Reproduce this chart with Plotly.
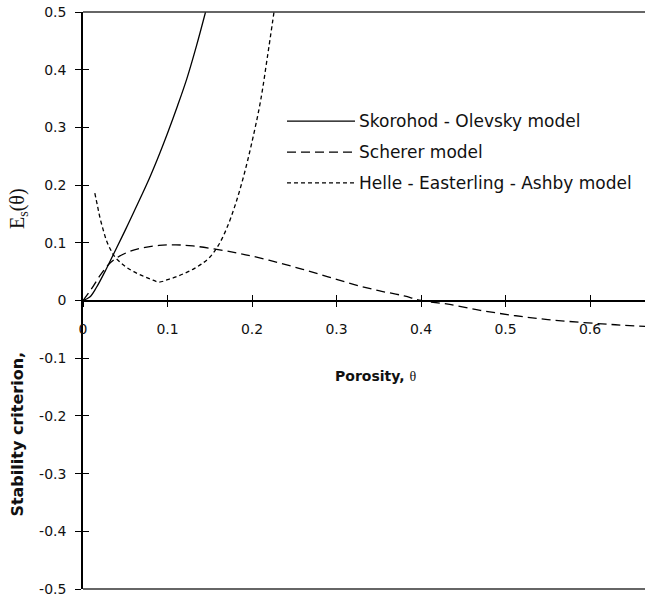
import plotly.graph_objects as go

# Porosity values and stability criterion E_s(theta) for the three models
skorohod_x = [0, 0.008, 0.016, 0.028, 0.04, 0.05, 0.06, 0.075, 0.088, 0.1, 0.112, 0.123, 0.134, 0.145]
skorohod_y = [0, 0.006, 0.023, 0.056, 0.092, 0.122, 0.153, 0.2, 0.245, 0.29, 0.338, 0.385, 0.44, 0.5]

scherer_x = [0, 0.01, 0.02, 0.03, 0.04, 0.055, 0.07, 0.09, 0.11, 0.13, 0.155, 0.18, 0.2, 0.23,
             0.26, 0.29, 0.32, 0.35, 0.38, 0.4, 0.43, 0.47, 0.51, 0.55, 0.59, 0.63, 0.665]
scherer_y = [0, 0.02, 0.043, 0.062, 0.074, 0.085, 0.091, 0.0955, 0.0965, 0.0945, 0.0895, 0.083,
             0.077, 0.066, 0.054, 0.041, 0.028, 0.017, 0.008, 0.0, -0.006, -0.017, -0.026,
             -0.033, -0.038, -0.042, -0.045]

helle_x = [0.014, 0.017, 0.02, 0.024, 0.028, 0.033, 0.038, 0.045, 0.052, 0.06, 0.07, 0.08, 0.09,
           0.1, 0.11, 0.12, 0.13, 0.14, 0.15, 0.16, 0.17, 0.18, 0.19, 0.2, 0.21, 0.218, 0.226]
helle_y = [0.186, 0.165, 0.144, 0.122, 0.103, 0.087, 0.075, 0.065, 0.057, 0.05, 0.043, 0.037,
           0.032, 0.036, 0.041, 0.047, 0.054, 0.063, 0.075, 0.095, 0.125, 0.165, 0.215, 0.275,
           0.345, 0.42, 0.5]

series_names = ["Skorohod - Olevsky model", "Scherer model", "Helle - Easterling - Ashby model"]
series_dash = ["solid", "9px,5px", "4px,3px"]

x_tick_vals = [0, 0.1, 0.2, 0.3, 0.4, 0.5, 0.6]
x_tick_text = ["0", "0.1", "0.2", "0.3", "0.4", "0.5", "0.6"]
y_tick_vals = [0.5, 0.4, 0.3, 0.2, 0.1, 0, -0.1, -0.2, -0.3, -0.4, -0.5]
y_tick_text = ["0.5", "0.4", "0.3", "0.2", "0.1", "0", "-0.1", "-0.2", "-0.3", "-0.4", "-0.5"]

X_RANGE = [0, 0.665]
Y_RANGE = [-0.5, 0.5]
TICK_FONT = dict(family="DejaVu Sans", size=14, color="#111")

fig = go.Figure()
for xs, ys, name, dash in zip([skorohod_x, scherer_x, helle_x],
                              [skorohod_y, scherer_y, helle_y],
                              series_names, series_dash):
    fig.add_trace(go.Scatter(x=xs, y=ys, name=name, mode="lines", line_shape="spline",
                             line=dict(color="black", width=1.3, dash=dash, smoothing=1.0),
                             showlegend=False, cliponaxis=True))

# empty trace so the overlay axes (inner half of the cross ticks) get drawn
fig.add_trace(go.Scatter(x=[], y=[], xaxis="x2", yaxis="y2", showlegend=False))

axis_common = dict(showgrid=False, zeroline=False, ticklen=6, tickwidth=1.3, tickcolor="black")

fig.update_layout(
    width=645, height=600,
    margin=dict(l=83, r=0, t=12, b=11),
    plot_bgcolor="white", paper_bgcolor="white",
    xaxis=dict(range=X_RANGE, tickvals=x_tick_vals, ticktext=x_tick_text,
               anchor="free", position=0.5, ticks="outside", showline=True,
               linecolor="black", linewidth=1.5, tickfont=TICK_FONT,
               ticklabelstandoff=10, **axis_common),
    xaxis2=dict(range=X_RANGE, tickvals=x_tick_vals, showticklabels=False, overlaying="x",
                anchor="free", position=0.5, ticks="inside", showline=False, **axis_common),
    yaxis=dict(range=Y_RANGE, tickvals=y_tick_vals, ticktext=y_tick_text,
               anchor="x", ticks="outside", showline=True, linecolor="black", linewidth=1.5,
               tickfont=TICK_FONT, ticklabelstandoff=6, **axis_common),
    yaxis2=dict(range=Y_RANGE, tickvals=y_tick_vals, showticklabels=False, overlaying="y",
                anchor="x", side="left", ticks="inside", showline=False, **axis_common),
)

# frame lines along top and bottom of the plotting area
for yy in (0, 1):
    fig.add_shape(type="line", xref="paper", yref="paper", x0=0, x1=1, y0=yy, y1=yy,
                  line=dict(color="#333", width=1.6))

# key: line samples with their labels
key_rows = [0.811, 0.757, 0.704]
for name, dash, yy in zip(series_names, series_dash, key_rows):
    fig.add_shape(type="line", xref="paper", yref="paper", x0=0.363, x1=0.484, y0=yy, y1=yy,
                  line=dict(color="black", width=1.2, dash=dash))
    fig.add_annotation(x=0.4875, y=yy, xref="paper", yref="paper", text=name, showarrow=False,
                       xanchor="left", yanchor="middle",
                       font=dict(family="DejaVu Sans", size=17, color="#111"))

# axis titles
fig.add_annotation(x=0.52, y=0.369, xref="paper", yref="paper",
                   text="<b>Porosity, </b><span style='font-family:Liberation Serif'>θ</span>",
                   showarrow=False, xanchor="center", yanchor="middle",
                   font=dict(family="DejaVu Sans", size=14, color="#111"))
fig.add_annotation(x=-0.116, y=0.269, xref="paper", yref="paper", text="<b>Stability criterion,</b>",
                   showarrow=False, textangle=-90, xanchor="center", yanchor="middle",
                   font=dict(family="DejaVu Sans", size=16, color="#111"))
fig.add_annotation(x=-0.116, y=0.66, xref="paper", yref="paper", text="E<sub>s</sub>(θ)",
                   showarrow=False, textangle=-90, xanchor="center", yanchor="middle",
                   font=dict(family="Liberation Serif", size=20, color="#111"))

fig.write_html("out.html")
